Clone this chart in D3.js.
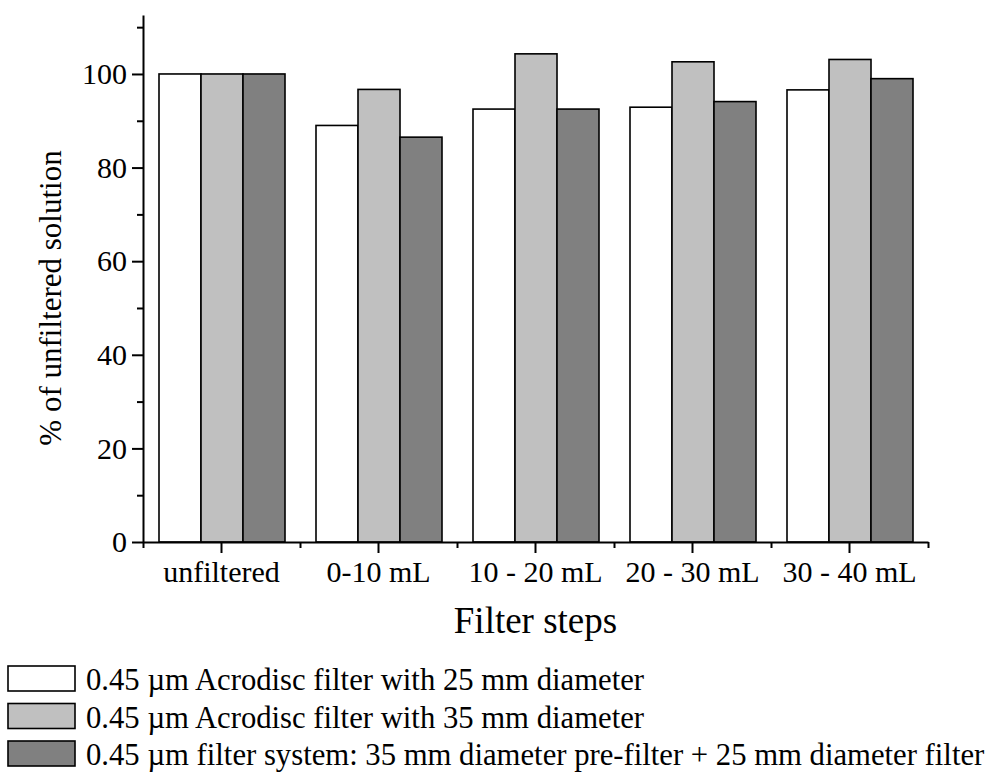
<!DOCTYPE html>
<html>
<head>
<meta charset="utf-8">
<script src="https://cdn.jsdelivr.net/npm/d3@7"></script>
<style>
  body { margin: 0; background: #fff; }
  text { font-family: "Liberation Serif", "Times New Roman", serif; fill: #000; }
</style>
</head>
<body>
<div class="chart"></div>
<script>
var svgWidth = 989;
var svgHeight = 773;

// chart data
var steps = ["unfiltered", "0-10 mL", "10 - 20 mL", "20 - 30 mL", "30 - 40 mL"];
var filters = ["f25", "f35", "combo"];
var f25 = [100, 89.0, 92.5, 92.9, 96.6];
var f35 = [100, 96.7, 104.3, 102.6, 103.1];
var combo = [100, 86.5, 92.5, 94.1, 99.0];
var legendLabels = [
    "0.45 \u00b5m Acrodisc filter with 25 mm diameter",
    "0.45 \u00b5m Acrodisc filter with 35 mm diameter",
    "0.45 \u00b5m filter system: 35 mm diameter pre-filter + 25 mm diameter filter"
];
var majorYTicks = [0, 20, 40, 60, 80, 100];
var minorYTicks = [10, 30, 50, 70, 90, 110];

var colors = {f25: "#ffffff", f35: "#c0c0c0", combo: "#808080"};

var rows = steps.map(function(s, i) {
    return {step: s, f25: f25[i], f35: f35[i], combo: combo[i]};
});

var svg = d3.select(".chart")
    .append("svg")
    .attr("width", svgWidth)
    .attr("height", svgHeight);

var plot = {left: 143, right: 928, top: 15, bottom: 542};

var x0 = d3.scaleBand()
    .domain(steps)
    .range([plot.left, plot.right]);

var x1 = d3.scaleBand()
    .domain(filters)
    .range([16, x0.bandwidth() - 15]);

var y = d3.scaleLinear()
    .domain([0, 112.6])
    .range([plot.bottom, plot.top]);

// bars
var groups = svg.append("g")
    .selectAll("g")
    .data(rows)
    .enter()
    .append("g")
    .attr("transform", d => `translate(${x0(d.step)},0)`);

groups.selectAll("rect")
    .data(d => filters.map(k => ({key: k, value: d[k]})))
    .enter()
    .append("rect")
    .attr("x", d => x1(d.key))
    .attr("y", d => y(d.value))
    .attr("width", x1.bandwidth())
    .attr("height", d => y(0) - y(d.value))
    .attr("fill", d => colors[d.key])
    .attr("stroke", "#000")
    .attr("stroke-width", 1.6);

// y axis
svg.append("g")
    .attr("transform", `translate(${plot.left},0)`)
    .call(d3.axisLeft(y).tickValues(majorYTicks).tickSize(11).tickSizeOuter(0).tickPadding(5));

svg.append("g")
    .attr("transform", `translate(${plot.left},0)`)
    .call(d3.axisLeft(y).tickValues(minorYTicks).tickSize(6).tickFormat(""))
    .select(".domain").remove();

// x axis
svg.append("g")
    .attr("transform", `translate(0,${plot.bottom})`)
    .call(d3.axisBottom(x0).tickSize(11).tickSizeOuter(0).tickPadding(8));

var xMinor = d3.scaleLinear().domain([0, steps.length]).range([plot.left, plot.right]);
svg.append("g")
    .attr("transform", `translate(0,${plot.bottom})`)
    .call(d3.axisBottom(xMinor).tickValues(d3.range(0, steps.length + 1)).tickSize(6).tickFormat(""))
    .select(".domain").remove();

svg.selectAll(".domain").attr("stroke", "#000").attr("stroke-width", 2);
svg.selectAll(".tick line").attr("stroke", "#000").attr("stroke-width", 2);
svg.selectAll(".tick text")
    .style("font-family", '"Liberation Serif", "Times New Roman", serif')
    .style("font-size", "30px")
    .attr("fill", "#000");

// axis titles
svg.append("text")
    .attr("transform", "translate(61,298) rotate(-90)")
    .attr("text-anchor", "middle")
    .style("font-size", "31px")
    .text("% of unfiltered solution");

svg.append("text")
    .attr("x", (plot.left + plot.right) / 2)
    .attr("y", 633)
    .attr("text-anchor", "middle")
    .style("font-size", "37px")
    .text("Filter steps");

// legend
var legend = svg.append("g")
    .selectAll("g")
    .data(filters)
    .enter()
    .append("g")
    .attr("transform", (d, i) => `translate(8,${666 + i * 37.5})`);

legend.append("rect")
    .attr("width", 67)
    .attr("height", 25)
    .attr("fill", d => colors[d])
    .attr("stroke", "#000")
    .attr("stroke-width", 1.6);

legend.append("text")
    .attr("x", 78)
    .attr("y", 24)
    .style("font-size", "30.7px")
    .text((d, i) => legendLabels[i]);
</script>
</body>
</html>
